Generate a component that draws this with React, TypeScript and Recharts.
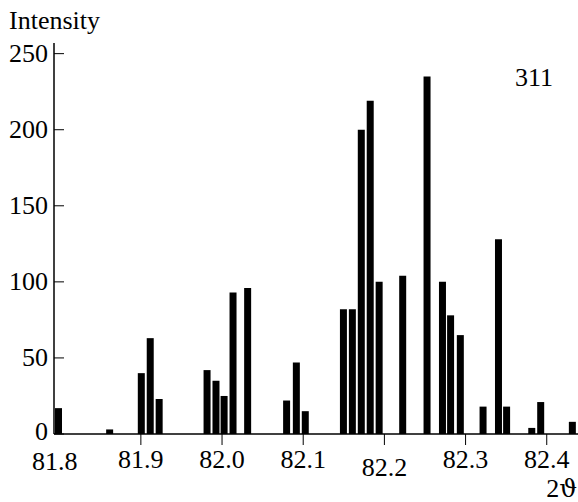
import { BarChart, Bar, XAxis, YAxis } from "recharts";

const twoTheta = [
  81.798, 81.861, 81.9, 81.911, 81.922, 81.981, 81.992, 82.002, 82.013, 82.031,
  82.079, 82.091, 82.102, 82.149, 82.16, 82.171, 82.182, 82.193, 82.222, 82.252,
  82.271, 82.281, 82.293, 82.321, 82.34, 82.35, 82.381, 82.392, 82.431,
];
const intensity = [
  17, 3, 40, 63, 23, 42, 35, 25, 93, 96,
  22, 47, 15, 82, 82, 200, 219, 100, 104, 235,
  100, 78, 65, 18, 128, 18, 4, 21, 8,
];
const xTicks = [81.8, 81.9, 82.0, 82.1, 82.2, 82.3, 82.4];
const yTicks = [0, 50, 100, 150, 200, 250];

const data = twoTheta.map((t, i) => ({ t, v: intensity[i] }));

const FONT = '"Liberation Serif", "Times New Roman", serif';
const txt = { fontFamily: FONT, fontSize: 26, fill: "#000" };

function XTick(props: any) {
  const { x, y, payload, index } = props;
  const first = index === 0;
  // 82.2 sits lower in the original, 81.8 a touch lower to clear the "0"
  const dy = payload.value === 82.2 ? 42 : first ? 36 : 34;
  return (
    <g>
      {!first && <line x1={x} y1={y} x2={x} y2={y + 11} stroke="#000" />}
      <text x={first ? x - 5 : x} y={y + dy} textAnchor="middle" style={txt}>
        {payload.value.toFixed(1)}
      </text>
    </g>
  );
}

function YTick(props: any) {
  const { x, y, payload } = props;
  const dy = payload.value === 0 ? 6 : 8;
  return (
    <g>
      <line x1={x} y1={y} x2={x + 10} y2={y} stroke="#000" />
      <text x={x - 6} y={y + dy} textAnchor="end" style={txt}>
        {payload.value}
      </text>
    </g>
  );
}

export default function App() {
  return (
    <div style={{ position: "absolute", left: 0, top: 0, background: "#fff" }}>
      <BarChart
        width={578}
        height={502}
        data={data}
        margin={{ top: 43, right: 0, bottom: 0, left: 0 }}
      >
        <XAxis
          dataKey="t"
          type="number"
          domain={[81.793, 82.4385]}
          allowDataOverflow
          ticks={xTicks}
          interval={0}
          height={68}
          axisLine={{ stroke: "#000", strokeWidth: 1.5 }}
          tickLine={false}
          tickSize={0}
          tickMargin={0}
          tick={(p: any) => <XTick {...p} />}
        />
        <YAxis
          type="number"
          domain={[0, 257]}
          allowDataOverflow
          ticks={yTicks}
          interval={0}
          width={54}
          axisLine={{ stroke: "#000", strokeWidth: 1.5 }}
          tickLine={false}
          tickSize={0}
          tickMargin={0}
          tick={(p: any) => <YTick {...p} />}
        />
        <Bar dataKey="v" fill="#000" barSize={7} isAnimationActive={false} />
        <text x={9} y={29} style={txt}>
          Intensity
        </text>
        <text x={515} y={86} style={txt}>
          311
        </text>
        <text x={577} y={497} textAnchor="end" style={txt}>
          2<tspan style={{ fontFamily: '"DejaVu Serif", serif', fontSize: 25 }}>ϑ</tspan>
        </text>
      </BarChart>
    </div>
  );
}
